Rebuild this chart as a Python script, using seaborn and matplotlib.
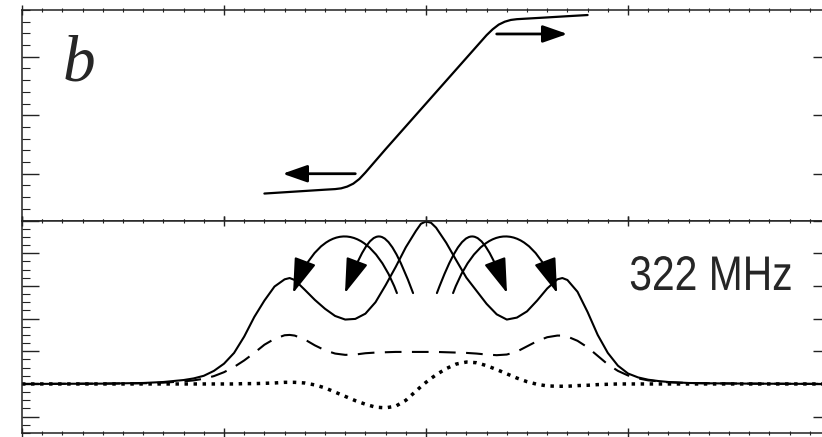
import matplotlib
matplotlib.use("Agg")
import numpy as np
import pandas as pd
import seaborn as sns
from matplotlib import pyplot as plt
from matplotlib.path import Path
from matplotlib.patches import FancyArrowPatch
from matplotlib.patheffects import AbstractPathEffect
from matplotlib.transforms import Affine2D
from matplotlib.ticker import MultipleLocator

# top panel: the step curve
top_x = [-0.80, -0.70, -0.60, -0.50, -0.45, -0.42, -0.39, -0.36, -0.33, -0.30,
         -0.20, -0.10, 0.00, 0.10, 0.20, 0.30, 0.33, 0.36, 0.39, 0.42,
         0.45, 0.50, 0.60, 0.70, 0.80]
top_y = [0.661, 0.683, 0.705, 0.727, 0.737, 0.75, 0.78, 0.83, 0.91, 1.02,
         1.42, 1.81, 2.20, 2.59, 2.98, 3.37, 3.47, 3.55, 3.60, 3.63,
         3.643, 3.653, 3.673, 3.694, 3.714]
top_arrow_tail = [(-0.35, 1.0), (0.35, 3.39)]
top_arrow_tip = [(-0.71, 1.0), (0.70, 3.39)]

# bottom panel: three profiles
bot_x = [-2.0, -1.6, -1.4, -1.3, -1.20, -1.15, -1.10, -1.05, -1.00, -0.95,
         -0.90, -0.85, -0.80, -0.75, -0.70, -0.675, -0.65, -0.60, -0.55, -0.50,
         -0.45, -0.40, -0.35, -0.30, -0.25, -0.20, -0.15, -0.10, -0.05, -0.025,
         0.0, 0.025, 0.05, 0.10, 0.15, 0.20, 0.25, 0.30, 0.35, 0.40,
         0.45, 0.50, 0.55, 0.60, 0.65, 0.675, 0.70, 0.75, 0.80, 0.85,
         0.90, 0.95, 1.00, 1.05, 1.10, 1.15, 1.20, 1.3, 1.4, 1.6, 2.0]
solid = [0.0, 0.01, 0.03, 0.06, 0.12, 0.17, 0.25, 0.40, 0.62, 0.95,
         1.45, 2.05, 2.55, 2.98, 3.20, 3.24, 3.18, 2.88, 2.57, 2.30,
         2.08, 1.97, 1.99, 2.15, 2.50, 3.02, 3.58, 4.18, 4.68, 4.90,
         4.97, 4.93, 4.78, 4.32, 3.78, 3.25, 2.85, 2.45, 2.13, 1.97,
         2.03, 2.22, 2.55, 2.92, 3.20, 3.24, 3.18, 2.82, 2.20, 1.50,
         0.95, 0.56, 0.32, 0.20, 0.13, 0.09, 0.06, 0.03, 0.02, 0.01, 0.0]
dashed = [0.0, 0.01, 0.02, 0.04, 0.08, 0.11, 0.16, 0.24, 0.36, 0.52,
          0.72, 0.95, 1.20, 1.38, 1.49, 1.50, 1.48, 1.36, 1.18, 1.03,
          0.93, 0.89, 0.90, 0.94, 0.96, 0.97, 0.98, 0.98, 0.98, 0.98,
          0.98, 0.98, 0.98, 0.97, 0.96, 0.95, 0.93, 0.90, 0.88, 0.90,
          0.99, 1.15, 1.31, 1.43, 1.48, 1.48, 1.45, 1.32, 1.12, 0.86,
          0.60, 0.40, 0.26, 0.17, 0.11, 0.08, 0.05, 0.03, 0.02, 0.01, 0.0]
dotted = [0.0, 0.0, 0.0, 0.0, 0.0, 0.0, 0.0, 0.0, 0.0, 0.0,
          0.01, 0.01, 0.02, 0.03, 0.05, 0.05, 0.05, 0.03, -0.03, -0.12,
          -0.25, -0.38, -0.51, -0.62, -0.71, -0.73, -0.68, -0.50, -0.22, -0.08,
          0.05, 0.17, 0.28, 0.47, 0.61, 0.67, 0.65, 0.56, 0.44, 0.31,
          0.18, 0.07, -0.01, -0.06, -0.07, -0.07, -0.07, -0.05, -0.04, -0.02,
          -0.01, 0.0, 0.0, 0.0, 0.0, 0.0, 0.0, 0.0, 0.0, 0.0, 0.0]

# curved arrows: start x, tip x (same height), arc peak height
arc_start = [-0.064, -0.144, 0.054, 0.134]
arc_tip = [-0.401, -0.658, 0.401, 0.649]
arc_base_y = 2.78
arc_peak_y = 4.5


class Squeeze(AbstractPathEffect):
    """Narrow a text horizontally around its anchor point."""

    def __init__(self, text, sx):
        super().__init__()
        self.text = text
        self.sx = sx

    def draw_path(self, renderer, gc, tpath, affine, rgbFace=None):
        x0, _ = self.text.get_transform().transform(self.text.get_position())
        squeeze = Affine2D().translate(-x0, 0).scale(self.sx, 1).translate(x0, 0)
        renderer.draw_path(gc, tpath, affine + squeeze, rgbFace)


sns.set_style("white")
plt.rcParams["font.family"] = ["Liberation Sans", "DejaVu Sans"]

fig = plt.figure(figsize=(8.22, 4.37), dpi=100)
ax_top = fig.add_axes([22 / 822, 1 - 220.5 / 437, 808 / 822, 210.5 / 437])
ax_bot = fig.add_axes([22 / 822, 1 - 433 / 437, 808 / 822, 212.5 / 437])

for ax in (ax_top, ax_bot):
    ax.set_xlim(-2, 2)
    ax.xaxis.set_major_locator(MultipleLocator(1))
    ax.xaxis.set_minor_locator(MultipleLocator(0.1))
    ax.tick_params(axis="x", which="major", direction="inout", length=7, width=1,
                   top=True, bottom=True, labelbottom=False, color="#222222")
    ax.tick_params(axis="x", which="minor", direction="inout", length=3.5, width=0.8,
                   top=True, bottom=True, color="#222222")
    ax.tick_params(axis="y", which="major", direction="in", length=12, width=1,
                   left=True, right=True, labelleft=False, color="#222222")
    ax.tick_params(axis="y", which="minor", direction="in", length=5.8, width=0.8,
                   left=True, right=True, color="#222222")
    for s in ax.spines.values():
        s.set_color("#222222")
        s.set_linewidth(1.1)

ax_top.set_ylim(0.2, 3.8)
ax_top.yaxis.set_major_locator(MultipleLocator(1))
ax_top.yaxis.set_minor_locator(MultipleLocator(0.2))
ax_bot.set_ylim(-1.5, 5)
ax_bot.yaxis.set_major_locator(MultipleLocator(1))
ax_bot.yaxis.set_minor_locator(MultipleLocator(0.25))

sns.lineplot(x=top_x, y=top_y, ax=ax_top, color="black", lw=1.6)
for tail, tip in zip(top_arrow_tail, top_arrow_tip):
    ax_top.annotate("", xy=tip, xytext=tail,
                    arrowprops=dict(arrowstyle="-|>,head_length=1.0,head_width=0.35",
                                    mutation_scale=15, lw=2, color="black",
                                    shrinkA=0, shrinkB=0))
ax_top.text(0.0507, 0.667, "b", transform=ax_top.transAxes, ha="left", va="baseline",
            fontsize=47, family=["Liberation Serif", "DejaVu Serif"], style="italic")

df = pd.DataFrame({"x": bot_x, "solid": solid, "dashed": dashed, "dotted": dotted})
sns.lineplot(data=df, x="x", y="solid", ax=ax_bot, color="black", lw=1.5)
sns.lineplot(data=df, x="x", y="dashed", ax=ax_bot, color="black", lw=1.5,
             linestyle=(0, (8, 5)))
sns.lineplot(data=df, x="x", y="dotted", ax=ax_bot, color="black", lw=2.5,
             linestyle=(0, (1, 1.6)))
for ax in (ax_top, ax_bot):
    ax.set_xlabel("")
    ax.set_ylabel("")

ctrl_h = (arc_peak_y - arc_base_y) / 0.75
lean = 0.14
for x0, x1 in zip(arc_start, arc_tip):
    sgn = np.sign(x1 - x0)
    verts = [(x0, arc_base_y), (x0 + sgn * lean, arc_base_y + ctrl_h),
             (x1 - sgn * lean, arc_base_y + ctrl_h), (x1, arc_base_y)]
    path = Path(verts, [Path.MOVETO, Path.CURVE4, Path.CURVE4, Path.CURVE4])
    arr = FancyArrowPatch(path=path, arrowstyle="-|>,head_length=1.08,head_width=0.35",
                          mutation_scale=20, lw=1.5, color="black")
    ax_bot.add_patch(arr)

label = ax_bot.text(0.954, 0.673, "322 MHz", transform=ax_bot.transAxes, ha="right",
                    va="baseline", fontsize=35)
label.set_path_effects([Squeeze(label, 0.84)])

fig.savefig("out.png", dpi=100)
